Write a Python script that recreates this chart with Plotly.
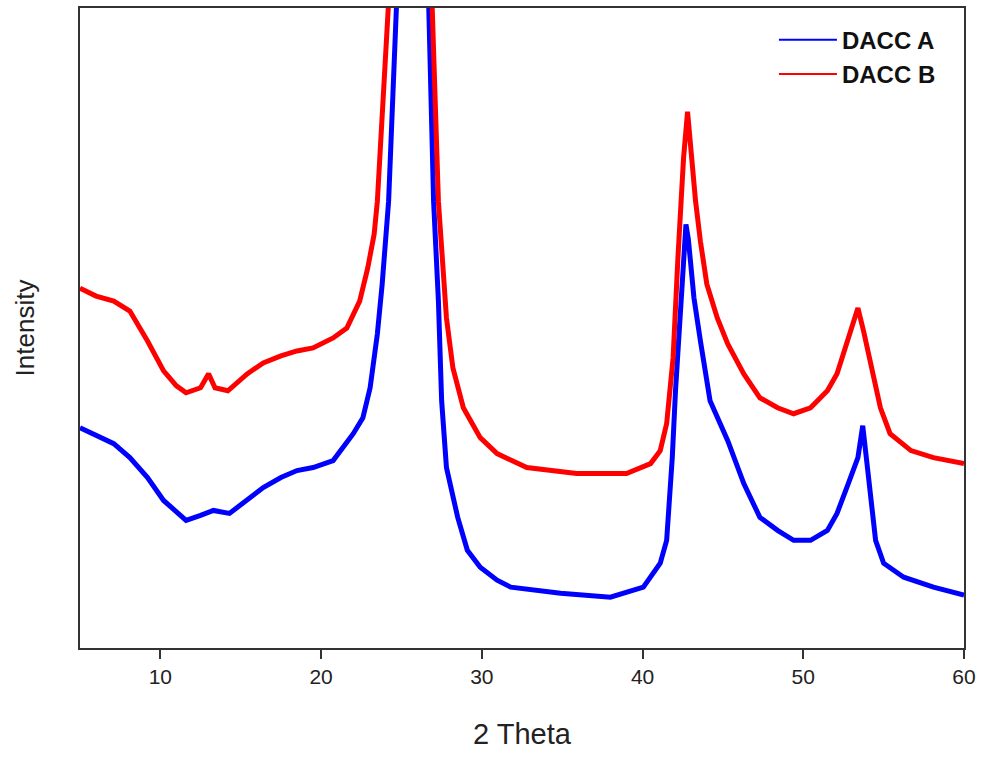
import plotly.graph_objects as go

# 2-theta positions (degrees) and intensities (arbitrary units)
theta_a = [5.0, 6.0, 7.1, 8.1, 9.2, 10.2, 11.0, 11.6, 12.5, 13.3, 14.3, 15.4, 16.4, 17.5,
           18.5, 19.5, 20.75, 22.0, 22.6, 23.05, 23.5, 23.8, 24.0, 24.2, 24.7, 25.2, 25.8,
           26.3, 26.7, 27.0, 27.3, 27.5, 27.8, 28.5, 29.1, 29.9, 30.95, 31.8, 34.9, 38.0,
           40.05, 41.1, 41.5, 41.85, 42.05, 42.4, 42.7, 42.85, 43.2, 43.6, 44.2, 45.3, 46.3,
           47.3, 48.4, 49.4, 50.45, 51.5, 52.1, 52.8, 53.4, 53.7, 54.05, 54.5, 55.0, 56.25,
           58.1, 60.0]
intensity_a = [221, 213, 205, 191, 171, 148, 136, 128, 133, 138, 135, 148, 161, 171,
               178, 181, 188, 215, 231, 261, 315, 365, 415, 448, 648, 900, 1100,
               900, 648, 448, 348, 248, 181, 131, 98, 81, 68, 61, 55, 51,
               61, 85, 108, 191, 258, 358, 425, 410, 351, 308, 248, 208, 165,
               131, 118, 108, 108, 118, 135, 165, 191, 223, 175, 108, 85, 71,
               61, 53]

theta_b = [5.0, 6.0, 7.1, 8.1, 9.2, 10.2, 11.0, 11.6, 12.5, 13.0, 13.4, 14.2, 15.4, 16.4,
           17.5, 18.5, 19.5, 20.75, 21.6, 22.4, 22.9, 23.3, 23.5, 24.2, 24.8, 25.5, 26.2,
           26.9, 27.3, 27.8, 28.2, 28.85, 29.9, 30.95, 32.8, 35.9, 39.0, 40.5, 41.1, 41.5,
           41.9, 42.2, 42.55, 42.8, 43.0, 43.3, 43.6, 44.0, 44.65, 45.3, 46.3, 47.3, 48.4,
           49.4, 50.45, 51.5, 52.1, 52.8, 53.4, 53.75, 54.2, 54.8, 55.4, 56.7, 58.1, 60.0]
intensity_b = [361, 353, 348, 338, 308, 278, 263, 256, 261, 275, 261, 258, 275, 286,
               293, 298, 301, 311, 321, 348, 381, 415, 448, 648, 950, 1150, 1000,
               648, 448, 331, 281, 241, 211, 195, 181, 175, 175, 185, 198, 225,
               291, 391, 491, 538, 498, 448, 408, 365, 331, 305, 275, 251, 241,
               235, 241, 258, 275, 311, 341, 318, 285, 241, 215, 198, 191, 185]

names = ["DACC A", "DACC B"]
colors = ["#0000FF", "#FF0000"]
x_ticks = [10, 20, 30, 40, 50, 60]

fig = go.Figure()
# data curves (legend entries drawn by thin-line legend traces below)
fig.add_trace(go.Scatter(x=theta_a, y=intensity_a, mode="lines", name=names[0], showlegend=False,
                         line=dict(color=colors[0], width=5)))
fig.add_trace(go.Scatter(x=theta_b, y=intensity_b, mode="lines", name=names[1], showlegend=False,
                         line=dict(color=colors[1], width=5)))
for nm, col in zip(names, colors):
    fig.add_trace(go.Scatter(x=[None], y=[None], mode="lines", name=nm,
                             line=dict(color=col, width=2)))

sans = "Liberation Sans, Arial, sans-serif"
fig.update_layout(
    width=994, height=757,
    margin=dict(l=80, r=30, t=6, b=109),
    paper_bgcolor="white", plot_bgcolor="white",
    showlegend=True,
    legend=dict(x=0.785, y=0.985, xanchor="left", yanchor="top",
                bgcolor="rgba(0,0,0,0)", itemwidth=58,
                font=dict(family=sans, size=24, color="#111111", weight="bold"),
                tracegroupgap=0),
    xaxis=dict(range=[5, 60], tickmode="array", tickvals=x_ticks,
               ticktext=[str(t) for t in x_ticks],
               ticks="outside", ticklen=9, tickwidth=2, tickcolor="#333333",
               showline=True, linecolor="#333333", linewidth=2, mirror=True,
               showgrid=False, zeroline=False,
               tickfont=dict(family=sans, size=21, color="#222222"),
               title=dict(text="2 Theta", font=dict(family=sans, size=29, color="#222222"), standoff=36)),
    yaxis=dict(range=[0, 642], showticklabels=False, ticks="",
               showline=True, linecolor="#333333", linewidth=2, mirror=True,
               showgrid=False, zeroline=False,
               title=dict(text="Intensity", font=dict(family=sans, size=26, color="#222222"), standoff=36)),
)
fig.write_html("out.html", config={"displayModeBar": False},
               post_script="document.body.style.margin='0px';")
